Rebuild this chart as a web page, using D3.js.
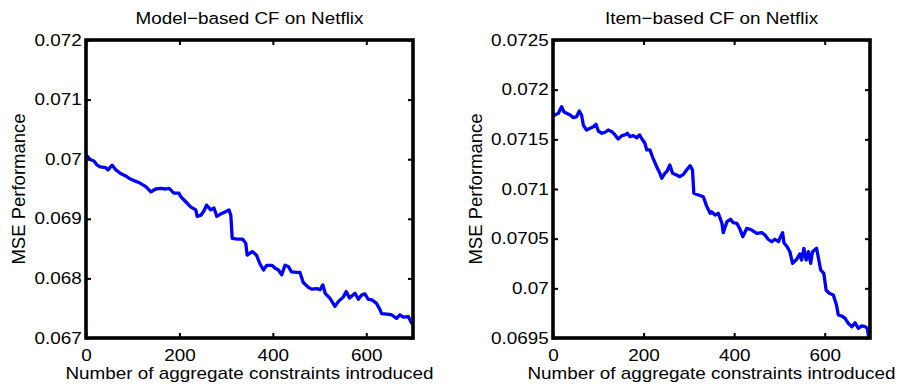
<!DOCTYPE html>
<html><head><meta charset="utf-8">
<script src="https://cdn.jsdelivr.net/npm/d3@7"></script>
<style>body{margin:0;background:#fff}svg{display:block}</style>
</head><body>
<script>
const xTicks = [0, 200, 400, 600];
const xTickLabels = ["0", "200", "400", "600"];
const modelYTicks = [0.067, 0.068, 0.069, 0.070, 0.071, 0.072];
const modelYTickLabels = ["0.067", "0.068", "0.069", "0.07", "0.071", "0.072"];
const itemYTicks = [0.0695, 0.0700, 0.0705, 0.0710, 0.0715, 0.0720, 0.0725];
const itemYTickLabels = ["0.0695", "0.07", "0.0705", "0.071", "0.0715", "0.072", "0.0725"];

const modelX = [0,10,17,24,31,42,47,56,64,74,85,92,103,113,128,139,149,160,171,178,188,199,203,213,224,235,238,246,253,258,267,274,280,288,299,306,310,313,324,335,342,345,356,365,372,380,387,398,405,412,419,426,433,440,451,458,465,476,483,494,501,507,512,522,533,540,551,557,564,576,583,590,597,604,612,622,629,633,644,654,665,672,679,690,697,700];
const modelY = [0.07007,0.06999,0.06997,0.06990,0.06987,0.06986,0.06982,0.06990,0.06982,0.06976,0.06972,0.06968,0.06964,0.06961,0.06954,0.06945,0.06950,0.06951,0.06950,0.06951,0.06943,0.06943,0.06937,0.06929,0.06920,0.06915,0.06904,0.06906,0.06914,0.06923,0.06915,0.06918,0.06904,0.06908,0.06912,0.06915,0.06906,0.06867,0.06866,0.06866,0.06859,0.06839,0.06845,0.06839,0.06825,0.06814,0.06822,0.06822,0.06817,0.06814,0.06806,0.06822,0.06820,0.06811,0.06810,0.06810,0.06793,0.06785,0.06782,0.06783,0.06781,0.06789,0.06775,0.06767,0.06753,0.06761,0.06769,0.06778,0.06767,0.06775,0.06765,0.06772,0.06774,0.06765,0.06764,0.06758,0.06748,0.06741,0.06740,0.06739,0.06733,0.06739,0.06735,0.06736,0.06725,0.06728];

const itemX = [0,4,12,19,24,30,38,45,52,58,63,67,74,82,89,95,100,108,115,122,130,137,144,152,159,164,170,177,185,191,198,203,207,214,221,229,236,240,247,252,258,264,273,280,288,295,303,308,311,321,332,339,347,350,358,365,373,376,384,392,398,406,413,419,428,439,450,461,468,475,483,490,498,501,507,510,517,523,529,538,545,549,554,559,564,569,573,582,587,591,598,603,610,619,626,630,638,645,652,660,667,674,682,689,694,697,700];
const itemY = [0.071762,0.071745,0.071762,0.071829,0.071778,0.071762,0.071745,0.071718,0.071728,0.071785,0.071745,0.071644,0.071594,0.071611,0.071627,0.071651,0.071584,0.071561,0.071571,0.071594,0.071577,0.071544,0.071503,0.071537,0.071544,0.071561,0.071527,0.071537,0.071516,0.071544,0.071493,0.071460,0.071393,0.071393,0.071309,0.071224,0.071158,0.071108,0.071158,0.071181,0.071242,0.071158,0.071141,0.071124,0.071148,0.071191,0.071235,0.071191,0.070957,0.070940,0.070922,0.070830,0.070755,0.070771,0.070738,0.070755,0.070655,0.070560,0.070671,0.070695,0.070661,0.070655,0.070594,0.070520,0.070604,0.070587,0.070554,0.070560,0.070537,0.070494,0.070469,0.070494,0.070469,0.070504,0.070560,0.070459,0.070419,0.070369,0.070252,0.070292,0.070346,0.070285,0.070403,0.070285,0.070369,0.070252,0.070369,0.070403,0.070285,0.070185,0.070151,0.069983,0.069950,0.069933,0.069832,0.069732,0.069721,0.069698,0.069648,0.069614,0.069654,0.069598,0.069621,0.069614,0.069598,0.069513,0.069520];

const W = 898, H = 387;
const FONT = "'Liberation Sans', Arial, Helvetica, sans-serif";
const SX = 1.18;
const svg = d3.select("body").append("svg").attr("width", W).attr("height", H)
  .style("font-family", FONT);

function panel(opts) {
  const {left, right, top, bottom, yDomain, yTicks, yTickLabels, xs, ys, title, ylabelX} = opts;
  const x = d3.scaleLinear().domain([0, 700]).range([left, right]);
  const y = d3.scaleLinear().domain(yDomain).range([bottom, top]);
  const g = svg.append("g");

  const line = d3.line().x((d, i) => x(xs[i])).y((d, i) => y(ys[i]));
  g.append("path").datum(xs).attr("d", line)
    .attr("fill", "none").attr("stroke", "#0000ff").attr("stroke-width", 3.3)
    .attr("stroke-linejoin", "round");

  const fmtX = (d) => xTickLabels[xTicks.indexOf(d)];
  const fmtY = (d) => yTickLabels[yTicks.indexOf(d)];
  const tickLen = 5;
  const axB = g.append("g").attr("transform", `translate(0,${bottom})`)
    .call(d3.axisBottom(x).tickValues(xTicks).tickFormat(fmtX).tickSizeInner(-tickLen).tickSizeOuter(0).tickPadding(11.5));
  const axT = g.append("g").attr("transform", `translate(0,${top})`)
    .call(d3.axisTop(x).tickValues(xTicks).tickFormat("").tickSizeInner(-tickLen).tickSizeOuter(0));
  const axL = g.append("g").attr("transform", `translate(${left},0)`)
    .call(d3.axisLeft(y).tickValues(yTicks).tickFormat(fmtY).tickSizeInner(-tickLen).tickSizeOuter(0).tickPadding(3.6));
  const axR = g.append("g").attr("transform", `translate(${right},0)`)
    .call(d3.axisRight(y).tickValues(yTicks).tickFormat("").tickSizeInner(-tickLen).tickSizeOuter(0));
  [axB, axT, axL, axR].forEach(a => {
    a.select(".domain").remove();
    a.selectAll(".tick line").attr("stroke", "#000").attr("stroke-width", 2);
    a.selectAll("text").attr("fill", "#000").attr("transform", `scale(${SX},1)`)
      .style("font-size", "16px").style("font-family", FONT);
  });

  g.append("rect").attr("x", left).attr("y", top).attr("width", right - left).attr("height", bottom - top)
    .attr("fill", "none").attr("stroke", "#000").attr("stroke-width", 3.6);

  g.append("text").attr("transform", `translate(${(left + right) / 2},24) scale(1.11,1)`)
    .attr("text-anchor", "middle").style("font-size", "17px").text(title);
  g.append("text").attr("transform", `translate(${(left + right) / 2},378.5) scale(${SX},1)`)
    .attr("text-anchor", "middle").style("font-size", "16px").text("Number of aggregate constraints introduced");
  g.append("text").attr("transform", `translate(${ylabelX},${(top + bottom) / 2}) rotate(-90)`)
    .attr("text-anchor", "middle").style("font-size", "18.5px").text("MSE Performance");
}

panel({left: 86, right: 413, top: 40, bottom: 338, yDomain: [0.067, 0.072],
  yTicks: modelYTicks, yTickLabels: modelYTickLabels, xs: modelX, ys: modelY,
  title: "Model\u2212based CF on Netflix", ylabelX: 25});
panel({left: 553, right: 870, top: 40, bottom: 338, yDomain: [0.0695, 0.0725],
  yTicks: itemYTicks, yTickLabels: itemYTickLabels, xs: itemX, ys: itemY,
  title: "Item\u2212based CF on Netflix", ylabelX: 482});
</script>
</body></html>
